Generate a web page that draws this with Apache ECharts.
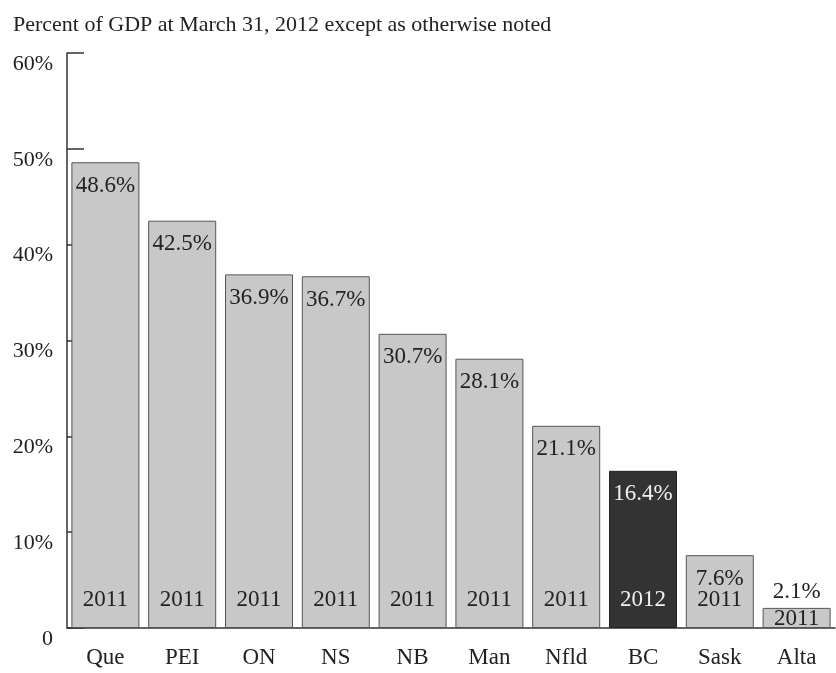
<!DOCTYPE html>
<html>
<head>
<meta charset="utf-8">
<script src="https://cdn.jsdelivr.net/npm/echarts@6/dist/echarts.min.js"></script>
<style>
  html, body { margin: 0; padding: 0; background: #fff; }
  #main { width: 836px; height: 673px; }
</style>
</head>
<body>
<div id="main"></div>
<script>
// provinces, debt as percent of GDP, and the year each figure refers to
const provinces = ['Que', 'PEI', 'ON', 'NS', 'NB', 'Man', 'Nfld', 'BC', 'Sask', 'Alta']
const debtPct = [48.6, 42.5, 36.9, 36.7, 30.7, 28.1, 21.1, 16.4, 7.6, 2.1]
const years = ['2011', '2011', '2011', '2011', '2011', '2011', '2011', '2012', '2011', '2011']
const yTicks = [0, 10, 20, 30, 40, 50, 60]

const FONT = 'Liberation Serif'
const chart = echarts.init(document.getElementById('main'))

const valueData = debtPct.map((v, i) => {
  const item = { value: v }
  if (provinces[i] === 'BC') {
    item.itemStyle = { color: '#333333', borderColor: '#222' }
    item.label = { color: '#f0f0f0' }
  }
  if (provinces[i] === 'Alta') {
    item.label = { position: 'top', distance: 4 }
  }
  return item
})

const yearData = debtPct.map((v, i) => {
  const item = { value: v }
  if (provinces[i] === 'BC') item.label = { color: '#f0f0f0' }
  if (provinces[i] === 'Alta') item.label = { distance: -2 }
  return item
})

chart.setOption({
  animation: false,
  title: {
    text: 'Percent of GDP at March 31, 2012 except as otherwise noted',
    left: 8, top: 9,
    textStyle: { fontFamily: FONT, fontSize: 22, fontWeight: 'normal', color: '#222' }
  },
  grid: { left: 67, right: 1, top: 53, bottom: 45 },
  xAxis: {
    type: 'category',
    data: provinces,
    axisLine: { lineStyle: { color: '#333', width: 1.5 } },
    axisTick: { inside: true, length: 11, lineStyle: { color: '#444', width: 1.5 } },
    axisLabel: { fontFamily: FONT, fontSize: 23, color: '#222', margin: 18 }
  },
  yAxis: {
    type: 'value',
    min: yTicks[0], max: yTicks[yTicks.length - 1], interval: 10,
    splitLine: { show: false },
    axisLine: { show: true, lineStyle: { color: '#333', width: 1.5 } },
    axisTick: { show: true, inside: true, length: 17, lineStyle: { color: '#333', width: 1.5 } },
    axisLabel: {
      fontFamily: FONT, fontSize: 22, color: '#222', margin: 14, verticalAlign: 'top',
      formatter: v => v === 0 ? '0' : v + '%'
    }
  },
  series: [
    {
      type: 'bar',
      data: valueData,
      barWidth: 68,
      itemStyle: { color: '#c8c8c8', borderColor: '#555', borderWidth: 1 },
      label: {
        show: true, position: 'insideTop', distance: 12,
        fontFamily: FONT, fontSize: 23, color: '#222',
        formatter: p => p.value.toFixed(1) + '%'
      }
    },
    {
      type: 'bar',
      data: yearData,
      barWidth: 68,
      barGap: '-100%',
      silent: true,
      itemStyle: { color: 'rgba(0,0,0,0)' },
      label: {
        show: true, position: 'insideBottom', distance: 17,
        fontFamily: FONT, fontSize: 23, color: '#222',
        formatter: p => years[p.dataIndex]
      }
    }
  ]
})
</script>
</body>
</html>
